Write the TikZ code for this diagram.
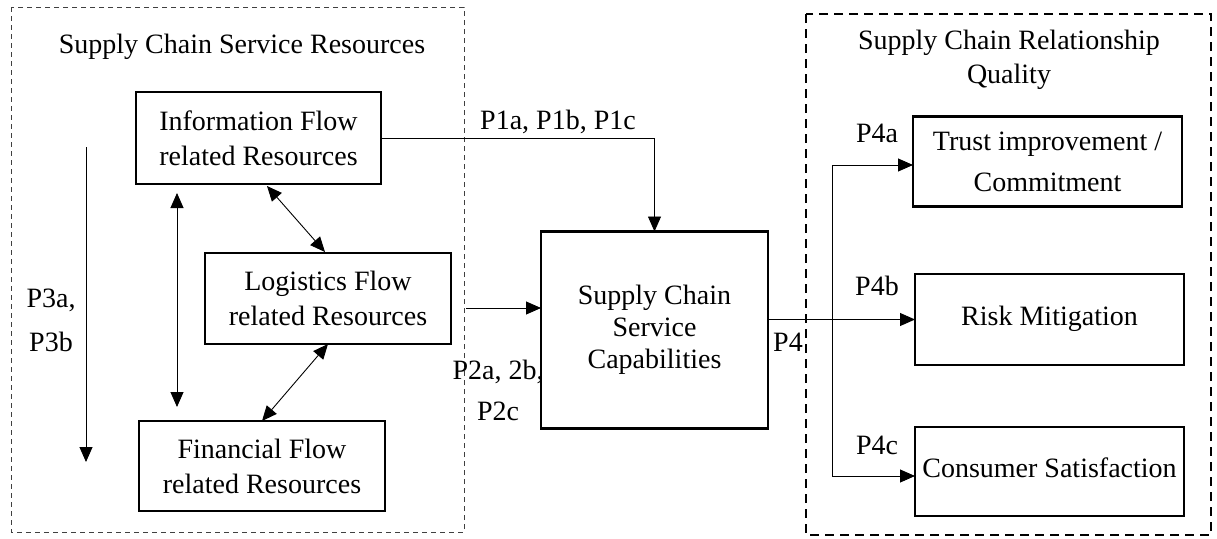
\documentclass[tikz,border=0pt]{standalone}
\usepackage{fontspec}
\setmainfont{Liberation Serif}
\usetikzlibrary{arrows.meta}
\begin{document}
\begin{tikzpicture}[x=1pt,y=-1pt,
  every node/.style={font=\fontsize{28}{36}\selectfont},
  box/.style={draw,line width=2.2pt,inner sep=0pt,outer sep=0pt,align=center},
  arr/.style={line width=0.9pt,-{Triangle[length=15pt,width=13pt]}},
  dbl/.style={line width=0.9pt,{Triangle[length=15pt,width=13pt]}-{Triangle[length=15pt,width=13pt]}},
  conn/.style={line width=0.9pt},
  lbl/.style={inner sep=0pt,align=center}]
\useasboundingbox (0,0) rectangle (1217,538);

% group frames
\draw[black!75,line width=1pt,dash pattern=on 5pt off 4pt] (11,7) rectangle (464,532);
\draw[line width=2pt,dash pattern=on 9pt off 6pt] (806,14) rectangle (1211,535);

% group titles
\node[lbl] (ltitle) at (242,47) {Supply Chain Service Resources};
\node[lbl,font=\fontsize{28}{34}\selectfont] (rtitle) at (1009,60) {Supply Chain Relationship\\Quality};

% resource boxes
\node[box,minimum width=245pt,minimum height=92pt,font=\fontsize{28}{35}\selectfont] (info) at (258.5,138) {Information Flow\\related Resources};
\node[box,minimum width=246pt,minimum height=91pt,font=\fontsize{28}{35}\selectfont] (logi) at (328,298.5) {Logistics Flow\\related Resources};
\node[box,minimum width=246pt,minimum height=90pt,font=\fontsize{28}{35}\selectfont] (fin) at (262,466) {Financial Flow\\related Resources};

% capabilities
\node[box,minimum width=227pt,minimum height=197pt,font=\fontsize{28}{32}\selectfont] (scsc) at (654.5,330) {Supply Chain\\Service\\Capabilities};

% relationship quality boxes
\node[box,minimum width=269pt,minimum height=90pt,font=\fontsize{28}{41}\selectfont] (trust) at (1047.5,161.5) {Trust improvement /\\Commitment};
\node[box,minimum width=269pt,minimum height=91pt] (risk) at (1049.5,319.5) {\raisebox{8pt}{Risk Mitigation}};
\node[box,minimum width=269pt,minimum height=89pt] (cons) at (1049.5,471.5) {\raisebox{8pt}{Consumer Satisfaction}};

% helper points
\coordinate (p3t) at (86,147);
\coordinate (p3b) at (86,462);
\coordinate (vt) at (177,193);
\coordinate (vb) at (177,407);
\coordinate (ilA) at (267,186);
\coordinate (ilB) at (325,252);
\coordinate (p2s) at (466,308);
\coordinate (bt) at (832,165);
\coordinate (bb) at (832,476);

% connectors inside the resource group
\draw[arr] (p3t) -- (p3b);
\draw[dbl] (vt) -- (vb);
\draw[dbl] (ilA) -- (ilB);
\draw[dbl] (logi.south) -- (fin.north);

% resources to capabilities
\draw[arr] (info.east) -| (scsc.north);
\draw[arr] (p2s) -- (scsc.west |- p2s);

% capabilities to relationship quality
\draw[arr] (scsc.east |- risk.west) -- (risk.west);
\draw[conn] (bt) -- (bb);
\draw[arr] (bt) -- (trust.west |- bt);
\draw[arr] (bb) -- (cons.west |- bb);

% proposition labels
\node[lbl] (p1l) at (558,122) {P1a, P1b, P1c};
\node[lbl,font=\fontsize{28}{41}\selectfont] (p2l) at (498,390) {P2a, 2b,\\P2c};
\node[lbl,font=\fontsize{28}{44}\selectfont] (p3l) at (51,320) {P3a,\\P3b};
\node[lbl] (p4l) at (788,342) {P4};
\node[lbl] (p4al) at (877,133) {P4a};
\node[lbl] (p4bl) at (877,286) {P4b};
\node[lbl] (p4cl) at (877,445) {P4c};
\end{tikzpicture}
\end{document}
